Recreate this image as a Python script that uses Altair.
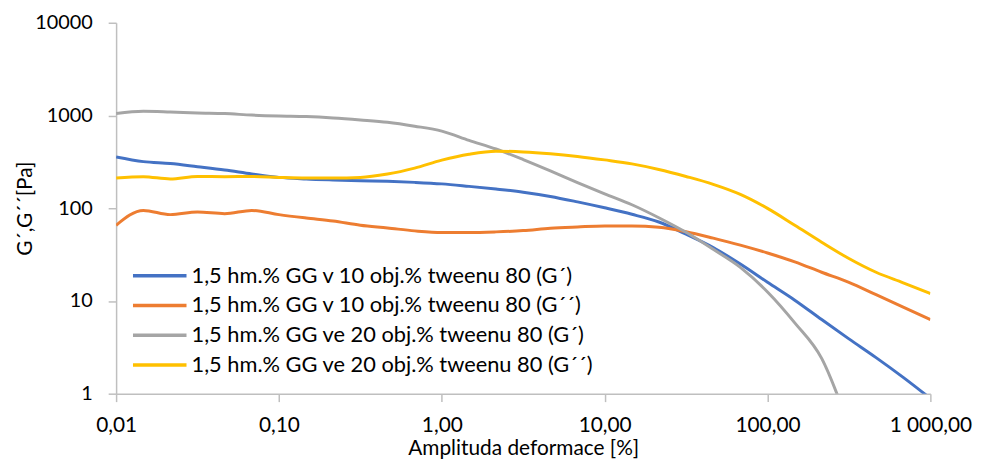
import altair as alt
import pandas as pd

# strain amplitude [%]
strain = [0.01, 0.0147, 0.0215, 0.0316, 0.0464, 0.0681, 0.1, 0.147, 0.215, 0.316,
          0.464, 0.681, 1.0, 1.47, 2.15, 3.16, 4.64, 6.81, 10.0, 14.7,
          21.5, 31.6, 46.4, 68.1, 100.0, 147.0, 215.0, 316.0, 464.0, 681.0, 1000.0]

# G' and G'' [Pa]
gg10_storage = [357, 318, 303, 280, 258, 234, 215, 207, 202, 198,
                195, 190, 183, 172, 161, 149, 134, 117, 101, 86,
                71, 52.5, 37.7, 25, 15.9, 10.2, 6.3, 3.9, 2.45, 1.5, 0.89]
gg10_loss = [65.5, 94.7, 85.3, 90.9, 87.4, 94.7, 85.3, 78.4, 72.8, 65.5,
             61.3, 57, 54.7, 54.7, 55.6, 57.4, 60.8, 62.8, 64.4, 64.4,
             62.4, 55.8, 47.6, 40, 32.9, 26.4, 20.4, 15.9, 11.7, 8.6, 6.3]
gg20_storage = [1048, 1109, 1090, 1064, 1048, 1011, 988, 973, 941, 896,
                846, 767, 678, 539, 435, 335, 253, 189, 143, 109,
                79, 55, 36, 23, 12.5, 5.8, 2.4, 0.45]
gg20_loss = [212, 219, 207, 220, 219, 220, 215, 212, 212, 215,
             234, 271, 330, 382, 412, 405, 387, 362, 332, 301,
             262, 220, 181, 141, 99.6, 65.5, 43, 28.7, 20.4, 15.7, 12]

series_names = [
    "1,5 hm.% GG v 10 obj.% tweenu 80 (G´)",
    "1,5 hm.% GG v 10 obj.% tweenu 80 (G´´)",
    "1,5 hm.% GG ve 20 obj.% tweenu 80 (G´)",
    "1,5 hm.% GG ve 20 obj.% tweenu 80 (G´´)",
]
series_values = [gg10_storage, gg10_loss, gg20_storage, gg20_loss]
colors = ["#4472C4", "#ED7D31", "#A5A5A5", "#FFC000"]

x_ticks = [0.01, 0.1, 1, 10, 100, 1000]
y_ticks = [1, 10, 100, 1000, 10000]

rows = []
for name, vals in zip(series_names, series_values):
    for s, v in zip(strain, vals):
        rows.append({"series": name, "strain": s, "value": v})
df = pd.DataFrame(rows)

FONT = "Lato"
AXIS_COLOR = "#BFBFBF"

x_label_expr = ("replace(replace(replace(format(datum.value, ',.2f'), ',', '#'), '.', ','), '#', ' ')")

chart = alt.Chart(df).mark_line(strokeWidth=3, interpolate="monotone", clip=True).encode(
    x=alt.X(
        "strain:Q",
        scale=alt.Scale(type="log", domain=[0.01, 1000], nice=False),
        axis=alt.Axis(
            values=x_ticks, labelExpr=x_label_expr, title="Amplituda deformace [%]",
            grid=False, labelFlush=False, labelOverlap=False,
            domainColor=AXIS_COLOR, domainWidth=1.5, tickColor=AXIS_COLOR, tickWidth=1.5,
            tickSize=8, labelPadding=13, titlePadding=2,
            labelFont=FONT, labelFontSize=21, labelColor="#000000",
            titleFont=FONT, titleFontSize=21, titleFontWeight="normal", titleColor="#000000",
        ),
    ),
    y=alt.Y(
        "value:Q",
        scale=alt.Scale(type="log", domain=[1, 10000], nice=False),
        axis=alt.Axis(
            values=y_ticks, format="d", title="G´,G´´[Pa]",
            grid=False, labelOverlap=False,
            domainColor=AXIS_COLOR, domainWidth=1.5, tickColor=AXIS_COLOR, tickWidth=1.5,
            tickSize=8, labelPadding=16, titleX=-81, titleBaseline="bottom",
            labelFont=FONT, labelFontSize=20, labelColor="#000000",
            titleFont=FONT, titleFontSize=21, titleFontWeight="normal", titleColor="#000000",
        ),
    ),
    color=alt.Color(
        "series:N",
        scale=alt.Scale(domain=series_names, range=colors),
        legend=alt.Legend(
            title=None, orient="none", legendX=33, legendY=244,
            symbolType="M-4,0H4", symbolSize=182, symbolStrokeWidth=3.5,
            labelOffset=21, padding=0, rowPadding=8,
            labelFont=FONT, labelFontSize=22, labelColor="#000000", labelLimit=600,
        ),
    ),
).properties(
    width=821,
    height=374,
    autosize=alt.AutoSizeParams(type="none"),
    padding={"left": 109, "top": 13, "right": 46, "bottom": 67},
).configure_view(strokeWidth=0)

chart.save("out.html", embed_options={"renderer": "svg", "actions": False})
